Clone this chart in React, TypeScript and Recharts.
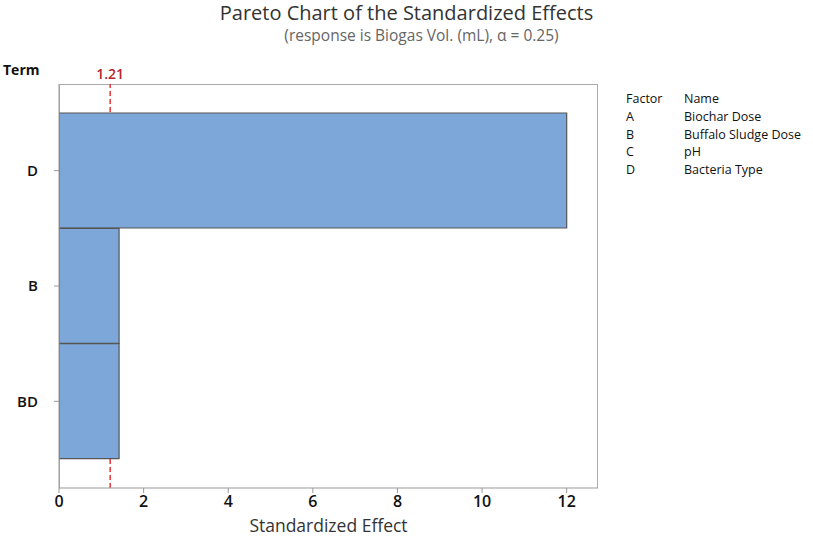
import React from 'react';
import { BarChart, Bar, XAxis, YAxis, ReferenceLine } from 'recharts';

const terms = ['D', 'B', 'BD'];
const effects = [12.0, 1.42, 1.42];
const criticalValue = 1.21;
const xTicks = [0, 2, 4, 6, 8, 10, 12];
const factorCodes = ['A', 'B', 'C', 'D'];
const factorNames = ['Biochar Dose', 'Buffalo Sludge Dose', 'pH', 'Bacteria Type'];

const data = terms.map((t, i) => ({ term: t, effect: effects[i] }));

const FONT = '"Open Sans", "Noto Sans", sans-serif';

export default function App() {
  return (
    <div style={{ position: 'absolute', left: 0, top: 0, width: 813, height: 538, fontFamily: FONT, background: '#fff' }}>
      <div style={{ position: 'absolute', left: 59, top: 84, width: 539, height: 404, boxSizing: 'border-box', border: '1.2px solid #aaa', borderBottom: 'none', pointerEvents: 'none' }} />
      <BarChart
        width={813}
        height={538}
        data={data}
        layout="vertical"
        margin={{ top: 84, right: 215, bottom: 0, left: 0 }}
        barCategoryGap={0}
        style={{ position: 'absolute', left: 0, top: 0 }}
      >
        <XAxis
          type="number"
          domain={[0, 12.74]}
          ticks={xTicks}
          allowDataOverflow
          height={50}
          stroke="#999"
          tickLine={{ stroke: '#999' }}
          tickSize={5}
          tick={{ fill: '#111', fontSize: 16, fontWeight: 600, fontFamily: FONT }}
          tickMargin={3}
        />
        <YAxis
          type="category"
          dataKey="term"
          width={59}
          stroke="#999"
          padding={{ top: 29, bottom: 29 }}
          tickSize={5}
          tickLine={{ stroke: '#999' }}
          tick={{ fill: '#111', fontSize: 15, fontWeight: 600, fontFamily: FONT }}
          tickMargin={16}
        />
        <ReferenceLine
          x={criticalValue}
          stroke="#E0383A"
          strokeWidth={1.5}
          strokeDasharray="5 3"
          zIndex={100}
          label={{ value: '1.21', position: 'top', fill: '#B5242A', fontSize: 14, fontWeight: 600, fontFamily: FONT }}
        />
        <Bar dataKey="effect" fill="#7DA7D9" stroke="#555" strokeWidth={1.2} isAnimationActive={false} />
      </BarChart>

      <div style={{ position: 'absolute', left: 0, width: 813, top: 0, textAlign: 'center' }}>
        <div style={{ fontSize: 20, color: '#333', lineHeight: '24px', paddingTop: 1 }}>
          Pareto Chart of the Standardized Effects
        </div>
        <div style={{ fontSize: 15.5, color: '#666', lineHeight: '20px', paddingLeft: 30 }}>
          (response is Biogas Vol. (mL), α = 0.25)
        </div>
      </div>

      <div style={{ position: 'absolute', left: 3, top: 60, fontSize: 14, fontWeight: 700, color: '#111' }}>Term</div>

      <div style={{ position: 'absolute', left: 626, top: 90, fontSize: 12.5, color: '#111', lineHeight: '17.8px' }}>
        <div style={{ display: 'flex' }}>
          <span style={{ width: 58 }}>Factor</span>
          <span>Name</span>
        </div>
        {factorCodes.map((c, i) => (
          <div key={c} style={{ display: 'flex' }}>
            <span style={{ width: 58 }}>{c}</span>
            <span>{factorNames[i]}</span>
          </div>
        ))}
      </div>

      <div style={{ position: 'absolute', left: 59, width: 539, top: 513, textAlign: 'center', fontSize: 17.5, color: '#333' }}>
        Standardized Effect
      </div>
    </div>
  );
}
